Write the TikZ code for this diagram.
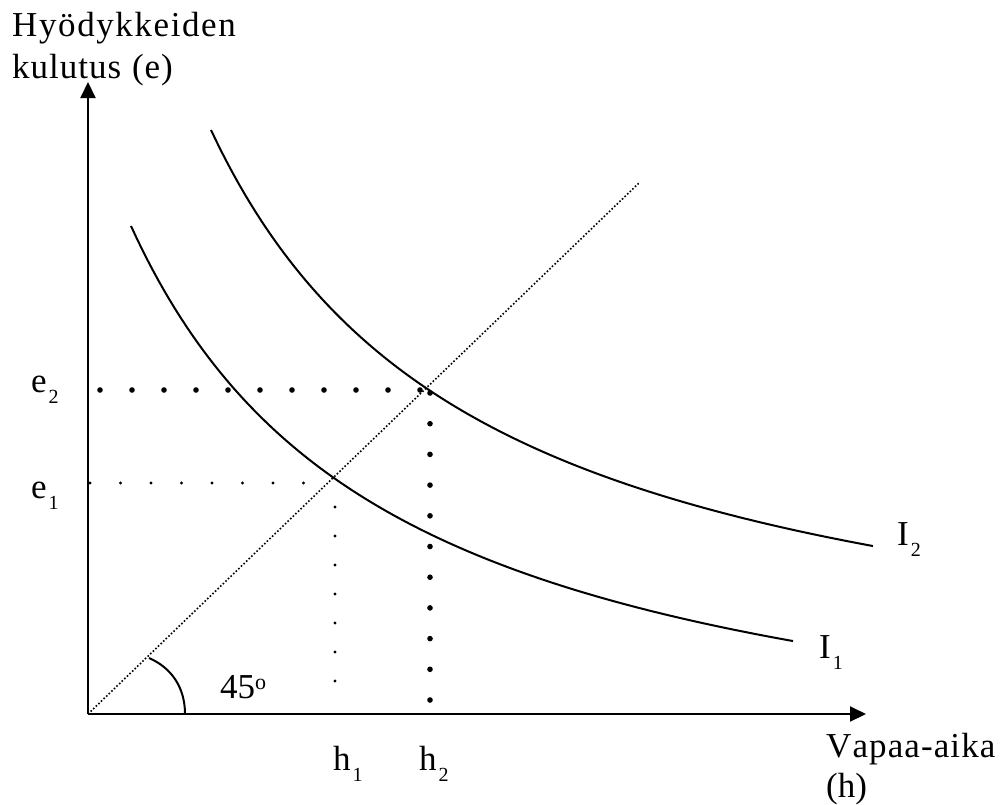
\documentclass[tikz,border=0pt]{standalone}
\usepackage{fontspec}
\setmainfont{Liberation Serif}
\usetikzlibrary{arrows.meta}
\newcommand{\sbs}[1]{\hspace{2pt}\raisebox{-11pt}{\fontsize{20}{20}\selectfont #1}}
\ExplSyntaxOn
\NewDocumentCommand{\lsp}{O{1.4pt}m}{\tl_map_inline:nn {#2} {##1\kern #1}}
\ExplSyntaxOff
\begin{document}
\begin{tikzpicture}[x=1pt,y=-1pt,
  axis/.style={line width=2pt,-{Triangle[length=16pt,width=15pt]}},
  curve/.style={line width=2pt},
  diag/.style={line width=1.6pt,dash pattern=on 1.6pt off 2pt},
  txt/.style={inner sep=0pt,anchor=base west,font=\fontsize{35}{40}\selectfont},
]
\useasboundingbox (0,0) rectangle (1000,804);
\fill[white] (0,0) rectangle (1000,804);
\coordinate (O) at (88,714);
\coordinate (Ytip) at (88,82);
\coordinate (Xtip) at (866,714);
\coordinate (Dend) at (640,182);
\coordinate (P2) at (429,390);
\coordinate (P1) at (334,478);
\coordinate (A0) at (185,714);
\coordinate (A1) at (149,658);

% 45 degree line
\draw[diag] (O) -- (Dend);

% dotted guides
\foreach \k in {0,...,10} \fill ({100+32*\k},390) circle (2.8);
\foreach \k in {0,...,10} \fill (430,{393+30.7*\k}) circle (2.8);
\foreach \k in {0,...,7} \fill ({90+30.5*\k},483) circle (1.6);
\foreach \k in {1,...,7} \fill (335,{478+29*\k}) circle (1.6);

% axes
\draw[axis] (O) -- (Ytip);
\draw[axis] (O) -- (Xtip);

% indifference curves
\draw[curve] plot[domain=211:873,samples=120] (\x,{719.8-1630.8/((\x+65.5)/100)});
\draw[curve] plot[domain=131:793,samples=120] (\x,{807.3-1541.61/((\x+134.2)/100)});

% angle arc
\draw[curve] (A0) .. controls (185,688) and (172,668) .. (A1);

% labels
\node[txt] (ylab1) at (12,36) {\lsp[1.6pt]{Hyödykkeiden}};
\node[txt] (ylab2) at (12,78) {\lsp[1.0pt]{kulutus~(e)}};
\node[txt] (e2) at (31,392) {e\sbs{2}};
\node[txt] (e1) at (31,498) {e\sbs{1}};
\node[txt] (h1) at (333,770) {h\sbs{1}};
\node[txt] (h2) at (419,770) {h\sbs{2}};
\node[txt] (I2) at (897,545) {I\sbs{2}};
\node[txt] (I1) at (819,658) {I\sbs{1}};
\node[txt] (deg) at (220,698) {45\raisebox{9pt}{\fontsize{22}{22}\selectfont o}};
\node[txt] (xl1) at (826,757) {\lsp[1.1pt]{Vapaa-aika}};
\node[txt] (xl2) at (826,797) {(h)};
\end{tikzpicture}
\end{document}
